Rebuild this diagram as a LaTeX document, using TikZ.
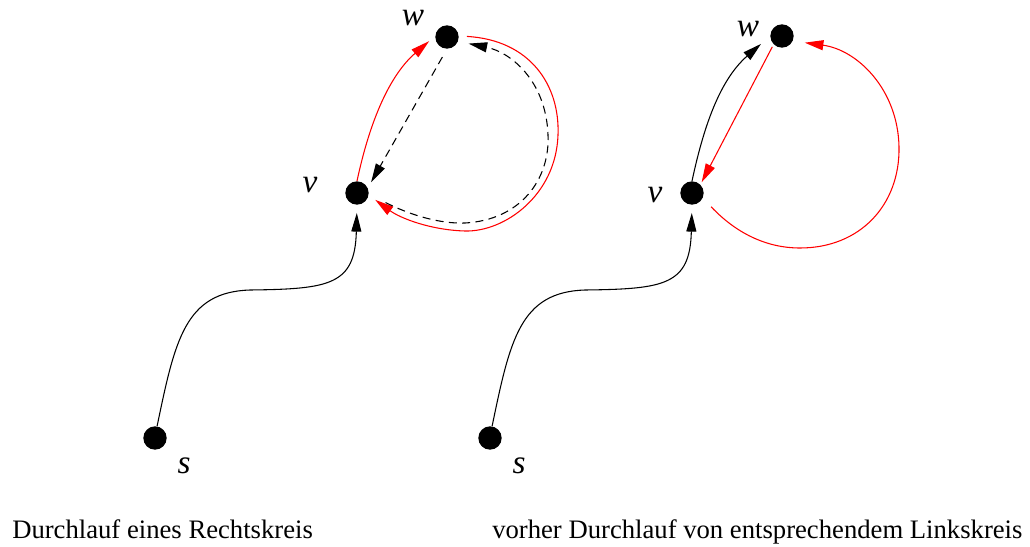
\documentclass[tikz,border=0pt]{standalone}
\usepackage{fontspec}
\setmainfont{Liberation Serif}
\usetikzlibrary{arrows.meta}
\begin{document}
\begin{tikzpicture}[x=0.75pt,y=-0.75pt,
  dot/.style={circle,fill=black,inner sep=0pt,minimum size=17.5pt},
  lbl/.style={inner sep=0pt,anchor=base,font=\fontsize{25}{30}\selectfont\itshape},
  captxt/.style={inner sep=0pt,anchor=base west,font=\fontsize{20}{24}\selectfont},
  conn/.style={line width=0.8pt,-{Triangle[length=14pt,width=7.5pt]}},
  blk/.style={conn,black},
  rd/.style={conn,red},
  dsh/.style={conn,black,dash pattern=on 6pt off 4pt}]
\useasboundingbox (0,0) rectangle (1030,546);
% left diagram
\node[dot] (sL) at (155,438) {};
\node[dot] (vL) at (357,193) {};
\node[dot] (wL) at (447,37) {};
\node[lbl] (sLl) at (184,473) {s};
\node[lbl] (vLl) at (310,192) {v};
\node[lbl] (wLl) at (413,25) {w};
\draw[blk,shorten >=6pt] (sL.80) .. controls (175,340) and (185,292) .. (250,290)
  .. controls (330,289) and (355,285) .. (vL.south);
\draw[rd,shorten >=6pt] (vL.north) .. controls (370,120) and (390,75) .. (wL.175);
\draw[rd,shorten <=6pt,shorten >=6pt] (wL.5) .. controls (530,40) and (560,85) .. (558,135)
  .. controls (556,195) and (505,232) .. (465,231)
  .. controls (430,230) and (400,218) .. (vL.-10);
\draw[dsh,shorten <=7pt,shorten >=5pt] (wL.-90) -- (vL.25);
\draw[dsh,shorten <=14pt,shorten >=8pt] (vL.-5) .. controls (410,215) and (440,224) .. (465,223)
  .. controls (520,220) and (550,180) .. (548,135)
  .. controls (546,80) and (510,52) .. (wL.-22);
% right diagram
\node[dot] (sR) at (490,438) {};
\node[dot] (vR) at (692,193) {};
\node[dot] (wR) at (782,36) {};
\node[lbl] (sRl) at (519,473) {s};
\node[lbl] (vRl) at (655,202) {v};
\node[lbl] (wRl) at (748,36) {w};
\draw[blk,shorten >=6pt] (sR.80) .. controls (510,340) and (520,292) .. (585,290)
  .. controls (665,289) and (690,285) .. (vR.south);
\draw[blk,shorten >=9pt] (vR.north) .. controls (705,120) and (722,78) .. (wR.180);
\draw[rd,shorten <=2pt,shorten >=2pt] (wR.-135) -- (vR.45);
\draw[rd,shorten <=9pt,shorten >=9pt] (vR.-25) .. controls (735,232) and (765,248) .. (800,248)
  .. controls (860,248) and (900,205) .. (899,147)
  .. controls (898,90) and (858,50) .. (wR.-25);
% captions
\node[captxt] (c1) at (12,538) {Durchlauf eines Rechtskreis};
\node[captxt] (c2) at (492,538) {vorher Durchlauf von entsprechendem Linkskreis};
\end{tikzpicture}
\end{document}
